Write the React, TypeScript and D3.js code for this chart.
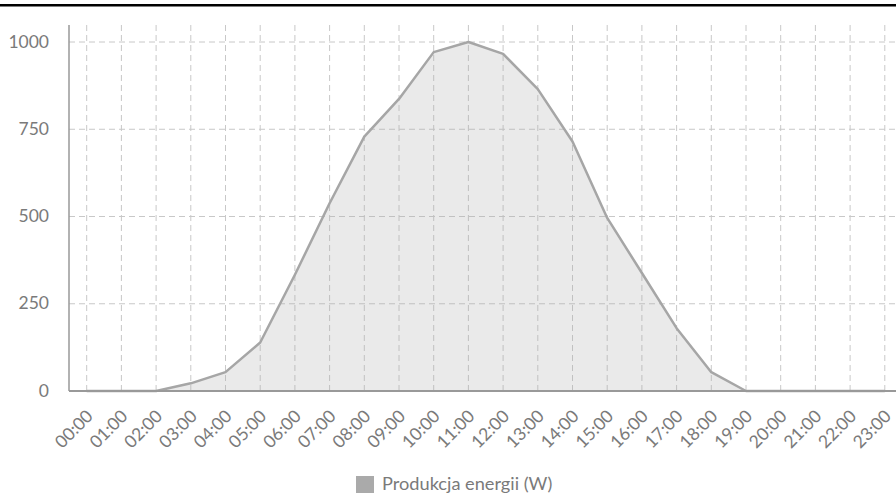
import React from "react";
import * as d3 from "d3";

const hours = [
  "00:00", "01:00", "02:00", "03:00", "04:00", "05:00", "06:00", "07:00",
  "08:00", "09:00", "10:00", "11:00", "12:00", "13:00", "14:00", "15:00",
  "16:00", "17:00", "18:00", "19:00", "20:00", "21:00", "22:00", "23:00",
];
const production = [
  0, 0, 0, 22, 54, 139, 333, 538, 729, 837, 971, 1000,
  966, 865, 715, 496, 338, 180, 54, 0, 0, 0, 0, 0,
];
const yTicks = [0, 250, 500, 750, 1000];
const seriesLabel = "Produkcja energii (W)";

const W = 896;
const H = 495;
const FONT = "Lato, 'Open Sans', sans-serif";
const TEXT = "#7a7a7a";

export default function App() {
  const plotLeft = 69;
  const plotRight = 896;
  const plotTop = 25;
  const plotBottom = 391;

  const x = d3.scalePoint<string>().domain(hours).range([86.7, 884.8]);
  const y = d3.scaleLinear().domain([0, 1000]).range([plotBottom, 42]);

  const pts = hours.map((h, i) => ({ h, v: production[i] }));
  const area = d3
    .area<{ h: string; v: number }>()
    .x((d) => x(d.h)!)
    .y0(y(0))
    .y1((d) => y(d.v));
  const line = d3
    .line<{ h: string; v: number }>()
    .x((d) => x(d.h)!)
    .y((d) => y(d.v));

  return (
    <svg
      width={W}
      height={H}
      style={{ position: "absolute", left: 0, top: 0, display: "block" }}
      fontFamily={FONT}
    >
      <rect width={W} height={H} fill="#fff" />
      <line x1={0} x2={W} y1={5.3} y2={5.3} stroke="#000" strokeWidth={2.6} />

      {/* horizontal grid */}
      {yTicks.map((t) => (
        <line
          key={"hg" + t}
          x1={plotLeft}
          x2={plotRight}
          y1={y(t)}
          y2={y(t)}
          stroke="#c8c8c8"
          strokeWidth={1}
          strokeDasharray="6,4"
        />
      ))}
      {/* vertical grid */}
      {hours.map((h) => (
        <line
          key={"vg" + h}
          x1={x(h)}
          x2={x(h)}
          y1={plotTop}
          y2={plotBottom}
          stroke="#c8c8c8"
          strokeWidth={1}
          strokeDasharray="6,4"
        />
      ))}

      <path d={area(pts)!} fill="rgba(170,170,170,0.25)" />
      <path
        d={line(pts)!}
        fill="none"
        stroke="#a6a6a6"
        strokeWidth={2.5}
        strokeLinejoin="round"
      />

      {/* axes */}
      <line x1={plotLeft} x2={plotLeft} y1={plotTop} y2={plotBottom} stroke="#999" strokeWidth={1.5} />
      <line x1={plotLeft} x2={plotRight} y1={plotBottom} y2={plotBottom} stroke="#999" strokeWidth={2} />

      {yTicks.map((t) => (
        <text
          key={"yl" + t}
          x={49}
          y={y(t)}
          dy="0.32em"
          textAnchor="end"
          fontSize={17.5}
          fill={TEXT}
        >
          {t}
        </text>
      ))}

      {hours.map((h) => (
        <text
          key={"xl" + h}
          transform={`translate(${x(h)! + 3},${plotBottom + 22}) rotate(-45)`}
          textAnchor="end"
          dy="0.35em"
          fontSize={17.5}
          fill={TEXT}
        >
          {h}
        </text>
      ))}

      {/* legend */}
      <rect x={356} y={476} width={18} height={17} fill="#aaa" />
      <text x={382} y={490} fontSize={18.2} fill={TEXT}>
        {seriesLabel}
      </text>
    </svg>
  );
}
